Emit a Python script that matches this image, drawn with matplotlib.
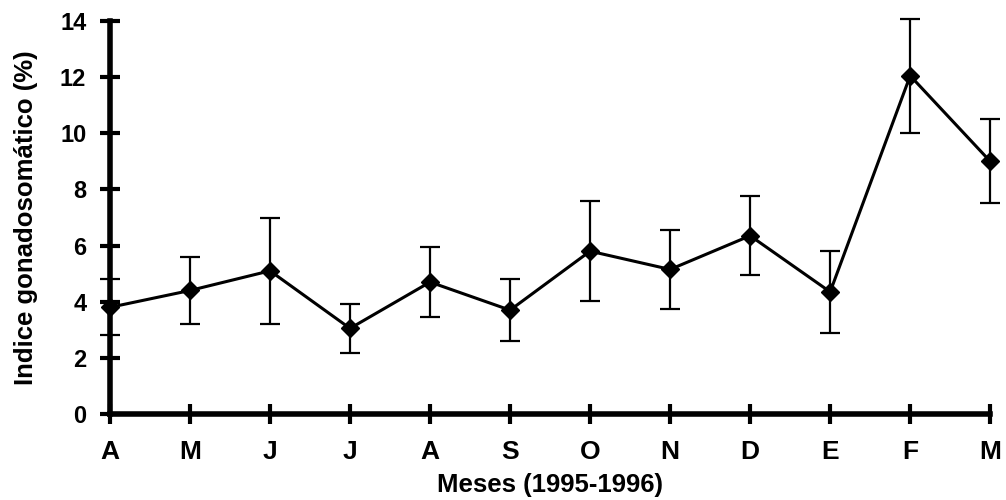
import numpy as np
import matplotlib.pyplot as plt

# Monthly gonadosomatic index (mean +/- error), April 1995 - March 1996
months = ["A", "M", "J", "J", "A", "S", "O", "N", "D", "E", "F", "M"]
igs = [3.8, 4.4, 5.1, 3.05, 4.7, 3.7, 5.8, 5.15, 6.35, 4.35, 12.05, 9.0]
igs_err = [1.0, 1.2, 1.9, 0.87, 1.25, 1.1, 1.78, 1.4, 1.4, 1.45, 2.03, 1.5]

plt.rcParams['font.family'] = ['Liberation Sans', 'DejaVu Sans']
plt.rcParams['font.weight'] = 'bold'

fig = plt.figure(figsize=(10.06, 5.0), dpi=100)
ax = fig.add_axes([0.1093, 0.172, 0.875, 0.786])

x = np.arange(len(months))
ax.errorbar(x, igs, yerr=igs_err, color='black', linewidth=2.2,
            elinewidth=1.6, capsize=7, capthick=1.6,
            marker='D', markersize=9, clip_on=False, zorder=3)

ax.set_xlim(0, len(months) - 1)
ax.set_ylim(0, 14)
ax.set_xticks(x)
ax.set_xticklabels(months)
ax.set_yticks(np.arange(0, 15, 2))

for side in ['top', 'right']:
    ax.spines[side].set_visible(False)
for side in ['left', 'bottom']:
    ax.spines[side].set_linewidth(4)

ax.tick_params(axis='both', direction='inout', length=14, width=3,
               colors='black')
ax.tick_params(axis='x', pad=12, labelsize=19)
ax.tick_params(axis='y', pad=10, labelsize=17)
for lab in ax.get_xticklabels() + ax.get_yticklabels():
    lab.set_fontweight('bold')

ax.set_xlabel('Meses (1995-1996)', fontsize=18.5, fontweight='bold', labelpad=6)
ax.set_ylabel('Indice gonadosomático (%)', fontsize=18.5, fontweight='bold',
              labelpad=16)

fig.savefig('out.png', dpi=100)
